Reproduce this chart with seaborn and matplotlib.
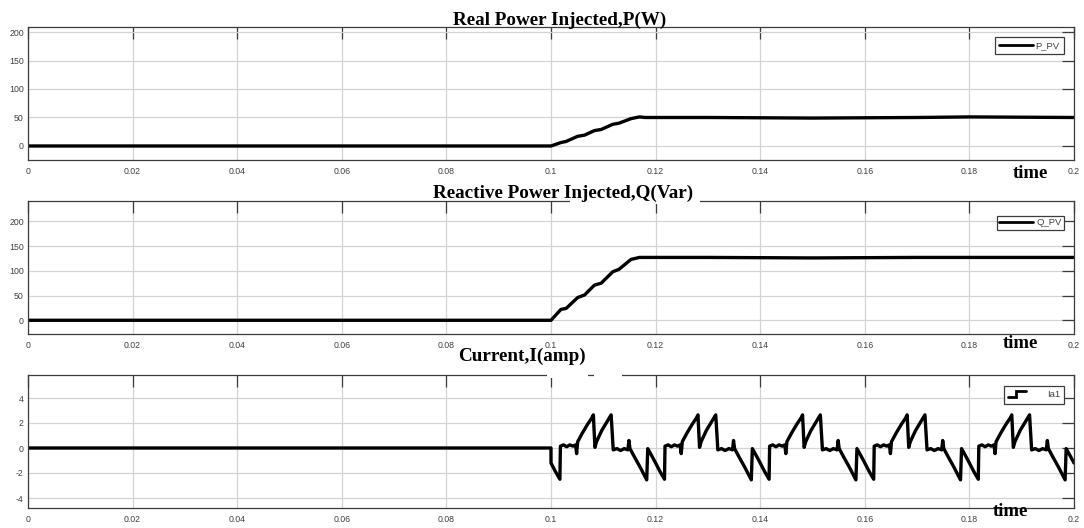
import numpy as np
import pandas as pd
import matplotlib
matplotlib.use("Agg")
import matplotlib.pyplot as plt
from matplotlib.lines import Line2D
from matplotlib.patches import Rectangle
from matplotlib.legend_handler import HandlerBase
import seaborn as sns

# ---- data -------------------------------------------------------------
# real power P (W) breakpoints
p_time = [0.0, 0.1, 0.1019, 0.1029, 0.1051, 0.1064, 0.1083, 0.1096, 0.1118,
          0.1130, 0.1153, 0.1169, 0.1180, 0.13, 0.15, 0.17, 0.18, 0.2]
p_watt = [0, 0, 6, 8, 17, 19, 27, 29, 38, 40, 48, 51, 50, 50, 49, 50, 51, 50]

# reactive power Q (Var) breakpoints
q_time = [0.0, 0.1, 0.1019, 0.1029, 0.1051, 0.1064, 0.1083, 0.1096, 0.1118,
          0.1130, 0.1153, 0.1169, 0.1180, 0.13, 0.15, 0.17, 0.18, 0.2]
q_var = [0, 0, 22, 24, 46, 51, 71, 75, 98, 103, 123, 127, 127, 127, 126, 127,
         127, 127]

# phase current Ia1 (A): one mains cycle, offsets from each cycle start
ia_offset = [0.0000, 0.0008, 0.0017, 0.0018, 0.0024, 0.0030, 0.0036, 0.0042,
             0.0047, 0.0049, 0.0051, 0.0060, 0.0070, 0.0078, 0.0081, 0.0084,
             0.0087, 0.0097, 0.0107, 0.0115, 0.0119, 0.0126, 0.0133, 0.0140,
             0.0147, 0.0149, 0.0151, 0.0160, 0.0170, 0.0183, 0.0185, 0.0193]
ia_amp = [-1.2, -1.85, -2.5, 0.15, 0.25, 0.1, 0.25, 0.15,
          0.25, -0.45, 0.5, 1.2, 1.9, 2.4, 2.65, 0.05,
          0.5, 1.4, 2.1, 2.65, -0.15, -0.05, -0.2, -0.05,
          -0.15, 0.6, -0.05, -0.75, -1.5, -2.55, -0.05, -0.65]
ia_cycle_start = [0.10, 0.12, 0.14, 0.16, 0.18]
ia_idle_time = [0.0, 0.1]
ia_idle_amp = [0.0, 0.0]
ia_end = (0.2, -1.2)

x_ticks = [0, 0.02, 0.04, 0.06, 0.08, 0.1, 0.12, 0.14, 0.16, 0.18, 0.2]
x_tick_labels = ["0", "0.02", "0.04", "0.06", "0.08", "0.1", "0.12", "0.14",
                 "0.16", "0.18", "0.2"]
power_ticks = [0, 50, 100, 150, 200]
current_ticks = [-4, -2, 0, 2, 4]

titles = ["Real Power Injected,P(W)", "Reactive Power Injected,Q(Var)",
          "Current,I(amp)"]
legend_names = ["P_PV", "Q_PV", "Ia1"]

# ---- assemble the current trace --------------------------------------
ia_t = list(ia_idle_time)
ia_v = list(ia_idle_amp)
for start in ia_cycle_start:
    ia_t += [start + d for d in ia_offset]
    ia_v += ia_amp
ia_t.append(ia_end[0])
ia_v.append(ia_end[1])

frames = [
    pd.DataFrame({"time": p_time, "value": p_watt}),
    pd.DataFrame({"time": q_time, "value": q_var}),
    pd.DataFrame({"time": ia_t, "value": ia_v}),
]

# ---- styling -----------------------------------------------------------
sns.set_style("white")
plt.rcParams["font.family"] = ["Liberation Sans", "DejaVu Sans"]

W, H = 1084, 528
fig = plt.figure(figsize=(W / 100, H / 100), dpi=100)


def px_rect(left, top, right, bottom):
    return [left / W, 1 - bottom / H, (right - left) / W, (bottom - top) / H]


boxes = [(28, 27, 1074, 160), (28, 201, 1074, 334), (28, 375, 1074, 508)]
ylims = [(-24.6, 208.8), (-27.7, 241.0), (-4.8, 5.84)]
yticks = [power_ticks, power_ticks, current_ticks]
legend_top_px = [10, 15, 11]

spine_col = "#3c3c3c"
grid_col = "#d3d3d3"
label_col = "#404040"


class StepHandle(HandlerBase):
    """Legend key drawn as a rising step."""

    def create_artists(self, legend, orig_handle, xdescent, ydescent,
                       width, height, fontsize, trans):
        x0 = -xdescent
        xm = x0 + 0.45 * width
        x1 = x0 + width
        ylo = -ydescent + 0.05 * height
        yhi = -ydescent + 0.95 * height
        ln = Line2D([x0, xm, xm, x1], [ylo, ylo, yhi, yhi], color="black",
                    lw=2.0, transform=trans, solid_joinstyle="miter")
        return [ln]


axes = []
for i, (df, box) in enumerate(zip(frames, boxes)):
    ax = fig.add_axes(px_rect(*box))
    axes.append(ax)
    sns.lineplot(data=df, x="time", y="value", ax=ax, color="black",
                 linewidth=2.4, estimator=None, sort=False, legend=False)
    ax.set_xlim(0, 0.2)
    ax.set_ylim(*ylims[i])
    ax.set_xticks(x_ticks)
    ax.set_xticklabels(x_tick_labels)
    ax.set_yticks(yticks[i])
    ax.set_yticklabels([str(v) for v in yticks[i]])
    ax.set_xlabel("")
    ax.set_ylabel("")
    ax.grid(True, color=grid_col, linewidth=0.9)
    ax.set_axisbelow(True)
    ax.tick_params(axis="both", direction="in", length=8.5, width=0.9,
                   color=spine_col, labelcolor=label_col, labelsize=6.3,
                   top=True, right=True)
    ax.tick_params(axis="x", pad=5)
    ax.tick_params(axis="y", pad=3)
    for sp in ax.spines.values():
        sp.set_visible(True)
        sp.set_color(spine_col)
        sp.set_linewidth(0.9)

    # legend in the upper right corner
    ax_w = box[2] - box[0]
    ax_h = box[3] - box[1]
    anchor = (1 - 10 / ax_w, 1 - legend_top_px[i] / ax_h)
    handle = Line2D([], [], color="black", lw=2.0)
    if i < 2:
        leg = ax.legend([handle], [legend_names[i]], loc="upper right",
                        bbox_to_anchor=anchor, borderaxespad=0,
                        fontsize=6.8, handlelength=3.6, handletextpad=0.3,
                        borderpad=0.45 if i == 0 else 0.25, fancybox=False,
                        framealpha=1, edgecolor=spine_col)
    else:
        leg = ax.legend([handle], [legend_names[i]], loc="upper right",
                        bbox_to_anchor=anchor, borderaxespad=0,
                        fontsize=6.8, handlelength=1.9, handletextpad=2.2,
                        borderpad=0.45, fancybox=False, framealpha=1,
                        edgecolor=spine_col,
                        handler_map={Line2D: StepHandle()})
    leg.get_frame().set_linewidth(0.9)
    for txt in leg.get_texts():
        txt.set_color(label_col)

# breaks in the upper frame lines behind the panel headings
for (l, t, r, b) in [(570, 198.5, 700, 203.5), (547, 372.5, 588, 377.5),
                     (594, 372.5, 622, 377.5)]:
    fig.patches.append(Rectangle((l / W, 1 - b / H), (r - l) / W, (b - t) / H,
                                 transform=fig.transFigure, facecolor="white",
                                 edgecolor="none", zorder=2))

# panel headings
serif = ["Liberation Serif", "DejaVu Serif"]
for txt, (cx, base) in zip(titles, [(560, 25), (563.5, 197.5), (521.5, 361)]):
    fig.text(cx / W, 1 - base / H, txt, ha="center", va="baseline",
             fontsize=13.8, fontweight="bold", family=serif, color="black",
             zorder=3)

# time labels
for cx, cy in [(1030, 174), (1020, 343), (1010, 512)]:
    fig.text(cx / W, 1 - cy / H, "time", ha="center", va="center",
             fontsize=13.5, fontweight="bold", family=serif, color="black",
             zorder=3)

fig.savefig("out.png", dpi=100, facecolor="white")
